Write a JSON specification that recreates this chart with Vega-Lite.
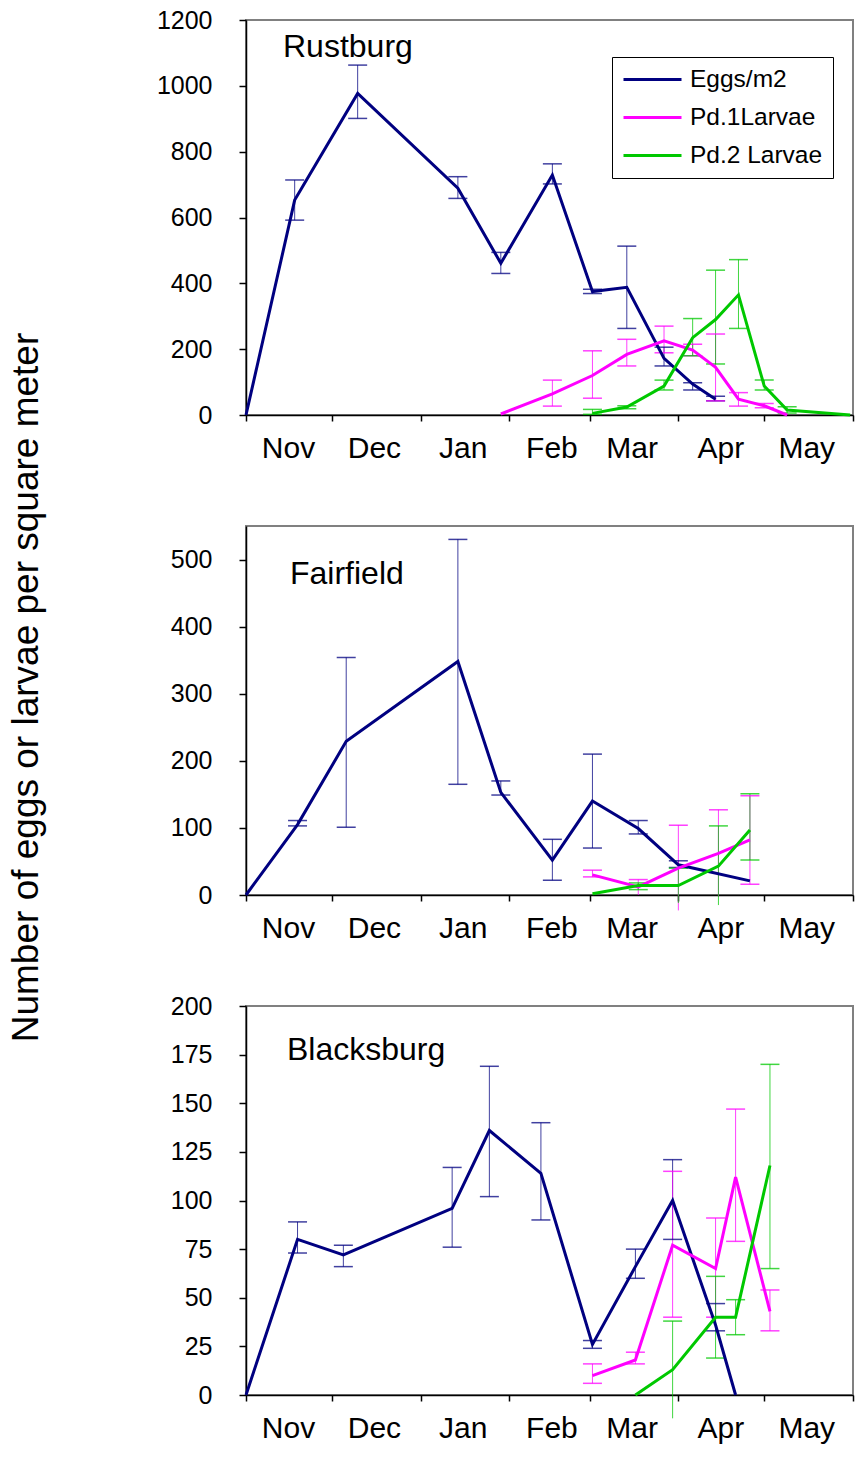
{
  "$schema": "https://vega.github.io/schema/vega-lite/v6.json",
  "background": "white",
  "padding": {"left": 5, "top": 7, "right": 2, "bottom": 2},
  "config": {
    "font": "Liberation Sans",
    "view": {"stroke": "#808080", "strokeWidth": 2},
    "axis": {"grid": false, "domainColor": "black", "tickColor": "black", "labelColor": "black", "titleColor": "black", "domainWidth": 1.5, "tickWidth": 1.5, "labelFont": "Liberation Sans", "titleFont": "Liberation Sans", "titleFontWeight": "normal"},
    "axisY": {"tickSize": 7, "labelPadding": 27, "labelFontSize": 25, "format": "d"},
    "axisX": {"tickSize": 6, "labelPadding": 12, "labelFontSize": 30}
  },
  "data": {"values": [
    {"site": "Rustburg", "series": "Eggs/m2", "date": "2002-11-01", "value": 0},
    {"site": "Rustburg", "series": "Eggs/m2", "date": "2002-11-18", "value": 653, "lo": 592, "hi": 714},
    {"site": "Rustburg", "series": "Eggs/m2", "date": "2002-12-10", "value": 977, "lo": 901, "hi": 1063},
    {"site": "Rustburg", "series": "Eggs/m2", "date": "2003-01-14", "value": 689, "lo": 658, "hi": 724},
    {"site": "Rustburg", "series": "Eggs/m2", "date": "2003-01-29", "value": 461, "lo": 430, "hi": 494},
    {"site": "Rustburg", "series": "Eggs/m2", "date": "2003-02-16", "value": 729, "lo": 702, "hi": 763},
    {"site": "Rustburg", "series": "Eggs/m2", "date": "2003-03-02", "value": 375, "lo": 369, "hi": 382},
    {"site": "Rustburg", "series": "Eggs/m2", "date": "2003-03-14", "value": 388, "lo": 263, "hi": 513},
    {"site": "Rustburg", "series": "Eggs/m2", "date": "2003-03-27", "value": 172, "lo": 149, "hi": 206},
    {"site": "Rustburg", "series": "Eggs/m2", "date": "2003-04-06", "value": 94, "lo": 76, "hi": 98},
    {"site": "Rustburg", "series": "Eggs/m2", "date": "2003-04-14", "value": 48, "lo": 43, "hi": 57},
    {"site": "Rustburg", "series": "Pd.1Larvae", "date": "2003-01-29", "value": 3},
    {"site": "Rustburg", "series": "Pd.1Larvae", "date": "2003-02-16", "value": 64, "lo": 27, "hi": 106},
    {"site": "Rustburg", "series": "Pd.1Larvae", "date": "2003-03-02", "value": 120, "lo": 51, "hi": 195},
    {"site": "Rustburg", "series": "Pd.1Larvae", "date": "2003-03-14", "value": 184, "lo": 149, "hi": 230},
    {"site": "Rustburg", "series": "Pd.1Larvae", "date": "2003-03-27", "value": 225, "lo": 189, "hi": 270},
    {"site": "Rustburg", "series": "Pd.1Larvae", "date": "2003-04-06", "value": 197, "lo": 180, "hi": 215},
    {"site": "Rustburg", "series": "Pd.1Larvae", "date": "2003-04-14", "value": 145, "lo": 43, "hi": 246},
    {"site": "Rustburg", "series": "Pd.1Larvae", "date": "2003-04-22", "value": 48, "lo": 27, "hi": 68},
    {"site": "Rustburg", "series": "Pd.1Larvae", "date": "2003-05-01", "value": 28, "lo": 22, "hi": 35},
    {"site": "Rustburg", "series": "Pd.1Larvae", "date": "2003-05-09", "value": 0},
    {"site": "Rustburg", "series": "Pd.2 Larvae", "date": "2003-03-02", "value": 5, "lo": 2, "hi": 17},
    {"site": "Rustburg", "series": "Pd.2 Larvae", "date": "2003-03-14", "value": 24, "lo": 19, "hi": 28},
    {"site": "Rustburg", "series": "Pd.2 Larvae", "date": "2003-03-27", "value": 88, "lo": 76, "hi": 106},
    {"site": "Rustburg", "series": "Pd.2 Larvae", "date": "2003-04-06", "value": 235, "lo": 180, "hi": 293},
    {"site": "Rustburg", "series": "Pd.2 Larvae", "date": "2003-04-14", "value": 290, "lo": 155, "hi": 440},
    {"site": "Rustburg", "series": "Pd.2 Larvae", "date": "2003-04-22", "value": 365, "lo": 263, "hi": 472},
    {"site": "Rustburg", "series": "Pd.2 Larvae", "date": "2003-05-01", "value": 88, "lo": 76, "hi": 106},
    {"site": "Rustburg", "series": "Pd.2 Larvae", "date": "2003-05-09", "value": 15, "lo": 6, "hi": 25},
    {"site": "Rustburg", "series": "Pd.2 Larvae", "date": "2003-05-31", "value": 0},

    {"site": "Fairfield", "series": "Eggs/m2", "date": "2002-11-01", "value": 0},
    {"site": "Fairfield", "series": "Eggs/m2", "date": "2002-11-19", "value": 105, "lo": 103, "hi": 111},
    {"site": "Fairfield", "series": "Eggs/m2", "date": "2002-12-06", "value": 229, "lo": 101, "hi": 354},
    {"site": "Fairfield", "series": "Eggs/m2", "date": "2003-01-14", "value": 348, "lo": 165, "hi": 530},
    {"site": "Fairfield", "series": "Eggs/m2", "date": "2003-01-29", "value": 153, "lo": 149, "hi": 170},
    {"site": "Fairfield", "series": "Eggs/m2", "date": "2003-02-16", "value": 52, "lo": 22, "hi": 83},
    {"site": "Fairfield", "series": "Eggs/m2", "date": "2003-03-02", "value": 140, "lo": 70, "hi": 210},
    {"site": "Fairfield", "series": "Eggs/m2", "date": "2003-03-18", "value": 99, "lo": 91, "hi": 111},
    {"site": "Fairfield", "series": "Eggs/m2", "date": "2003-04-01", "value": 45, "lo": 41, "hi": 51},
    {"site": "Fairfield", "series": "Eggs/m2", "date": "2003-04-26", "value": 21},
    {"site": "Fairfield", "series": "Pd.1Larvae", "date": "2003-03-02", "value": 30, "lo": 27, "hi": 37},
    {"site": "Fairfield", "series": "Pd.1Larvae", "date": "2003-03-18", "value": 12, "lo": 0, "hi": 23},
    {"site": "Fairfield", "series": "Pd.1Larvae", "date": "2003-04-01", "value": 40, "lo": -23, "hi": 104},
    {"site": "Fairfield", "series": "Pd.1Larvae", "date": "2003-04-15", "value": 62, "lo": -3, "hi": 127},
    {"site": "Fairfield", "series": "Pd.1Larvae", "date": "2003-04-26", "value": 82, "lo": 16, "hi": 148},
    {"site": "Fairfield", "series": "Pd.2 Larvae", "date": "2003-03-02", "value": 2},
    {"site": "Fairfield", "series": "Pd.2 Larvae", "date": "2003-03-18", "value": 14, "lo": 8, "hi": 18},
    {"site": "Fairfield", "series": "Pd.2 Larvae", "date": "2003-04-01", "value": 14, "lo": -12, "hi": 40},
    {"site": "Fairfield", "series": "Pd.2 Larvae", "date": "2003-04-15", "value": 43, "lo": -15, "hi": 103},
    {"site": "Fairfield", "series": "Pd.2 Larvae", "date": "2003-04-26", "value": 97, "lo": 52, "hi": 151},

    {"site": "Blacksburg", "series": "Eggs/m2", "date": "2002-11-01", "value": 0},
    {"site": "Blacksburg", "series": "Eggs/m2", "date": "2002-11-19", "value": 80, "lo": 73, "hi": 89},
    {"site": "Blacksburg", "series": "Eggs/m2", "date": "2002-12-05", "value": 72, "lo": 66, "hi": 77},
    {"site": "Blacksburg", "series": "Eggs/m2", "date": "2003-01-12", "value": 96, "lo": 76, "hi": 117},
    {"site": "Blacksburg", "series": "Eggs/m2", "date": "2003-01-25", "value": 136, "lo": 102, "hi": 169},
    {"site": "Blacksburg", "series": "Eggs/m2", "date": "2003-02-12", "value": 114, "lo": 90, "hi": 140},
    {"site": "Blacksburg", "series": "Eggs/m2", "date": "2003-03-02", "value": 26, "lo": 24, "hi": 28},
    {"site": "Blacksburg", "series": "Eggs/m2", "date": "2003-03-17", "value": 66, "lo": 60, "hi": 75},
    {"site": "Blacksburg", "series": "Eggs/m2", "date": "2003-03-30", "value": 100, "lo": 80, "hi": 121},
    {"site": "Blacksburg", "series": "Eggs/m2", "date": "2003-04-14", "value": 36, "lo": 33, "hi": 47},
    {"site": "Blacksburg", "series": "Eggs/m2", "date": "2003-04-21", "value": 0},
    {"site": "Blacksburg", "series": "Pd.1Larvae", "date": "2003-03-02", "value": 10, "lo": 6, "hi": 16},
    {"site": "Blacksburg", "series": "Pd.1Larvae", "date": "2003-03-17", "value": 18, "lo": 16, "hi": 22},
    {"site": "Blacksburg", "series": "Pd.1Larvae", "date": "2003-03-30", "value": 77, "lo": 40, "hi": 115},
    {"site": "Blacksburg", "series": "Pd.1Larvae", "date": "2003-04-14", "value": 65, "lo": 40, "hi": 91},
    {"site": "Blacksburg", "series": "Pd.1Larvae", "date": "2003-04-21", "value": 112, "lo": 79, "hi": 147},
    {"site": "Blacksburg", "series": "Pd.1Larvae", "date": "2003-05-03", "value": 43, "lo": 33, "hi": 54},
    {"site": "Blacksburg", "series": "Pd.2 Larvae", "date": "2003-03-17", "value": 0},
    {"site": "Blacksburg", "series": "Pd.2 Larvae", "date": "2003-03-30", "value": 13, "lo": -12, "hi": 38},
    {"site": "Blacksburg", "series": "Pd.2 Larvae", "date": "2003-04-14", "value": 40, "lo": 19, "hi": 61},
    {"site": "Blacksburg", "series": "Pd.2 Larvae", "date": "2003-04-21", "value": 40, "lo": 31, "hi": 49},
    {"site": "Blacksburg", "series": "Pd.2 Larvae", "date": "2003-05-03", "value": 118, "lo": 65, "hi": 170}
  ]},
  "bounds": "flush",
  "spacing": 111,
  "resolve": {"scale": {"color": "independent"}, "legend": {"color": "independent"}},
  "vconcat": [
    {
      "width": 607, "height": 395,
      "title": {"text": "Rustburg", "anchor": "start", "frame": "group", "baseline": "top", "offset": 0, "dx": 37, "dy": 56, "fontSize": 32, "fontWeight": "normal", "color": "black"},
      "transform": [{"filter": "datum.site == 'Rustburg'"}],
      "encoding": {
        "x": {"field": "date", "type": "temporal", "title": null,
          "scale": {"type": "utc", "domain": [{"year": 2002, "month": 11, "date": 1, "utc": true}, {"year": 2003, "month": 6, "date": 1, "utc": true}]},
          "axis": {"values": [{"year": 2002, "month": 11, "date": 1, "utc": true}, {"year": 2002, "month": 12, "date": 1, "utc": true}, {"year": 2003, "month": 1, "date": 1, "utc": true}, {"year": 2003, "month": 2, "date": 1, "utc": true}, {"year": 2003, "month": 3, "date": 1, "utc": true}, {"year": 2003, "month": 4, "date": 1, "utc": true}, {"year": 2003, "month": 5, "date": 1, "utc": true}, {"year": 2003, "month": 6, "date": 1, "utc": true}],
            "format": "%b", "labelExpr": "datum.label == 'Jun' ? '' : datum.label", "labelOffset": 42, "labelOverlap": false, "labelFlush": false, "labelBound": false}},
        "color": {"field": "series", "type": "nominal",
          "scale": {"domain": ["Eggs/m2", "Pd.1Larvae", "Pd.2 Larvae"], "range": ["#000080", "#FF00FF", "#00C800"]},
          "legend": {"orient": "none", "legendX": 366, "legendY": 37, "title": null, "strokeColor": "black", "fillColor": "white", "padding": 10, "rowPadding": 12, "clipHeight": 25, "symbolType": "stroke", "symbolSize": 3364, "symbolStrokeWidth": 3, "symbolOpacity": 1, "labelFontSize": 24.5, "labelOffset": 7, "labelFont": "Liberation Sans", "labelColor": "black"}}
      },
      "layer": [
        {"transform": [{"filter": "isValid(datum.lo)"}], "mark": {"type": "rule", "strokeWidth": 1, "opacity": 0.75},
          "encoding": {"y": {"field": "lo", "type": "quantitative", "scale": {"domain": [0, 1200]}, "axis": {"values": [0, 200, 400, 600, 800, 1000, 1200], "title": null}}, "y2": {"field": "hi"}}},
        {"transform": [{"filter": "isValid(datum.lo)"}], "mark": {"type": "tick", "orient": "horizontal", "size": 19, "thickness": 1.5, "opacity": 0.75},
          "encoding": {"y": {"field": "lo", "type": "quantitative", "scale": {"domain": [0, 1200]}, "axis": {"values": [0, 200, 400, 600, 800, 1000, 1200], "title": null}}}},
        {"transform": [{"filter": "isValid(datum.hi)"}], "mark": {"type": "tick", "orient": "horizontal", "size": 19, "thickness": 1.5, "opacity": 0.75},
          "encoding": {"y": {"field": "hi", "type": "quantitative", "scale": {"domain": [0, 1200]}, "axis": {"values": [0, 200, 400, 600, 800, 1000, 1200], "title": null}}}},
        {"mark": {"type": "line", "strokeWidth": 3},
          "encoding": {"y": {"field": "value", "type": "quantitative", "scale": {"domain": [0, 1200]}, "axis": {"values": [0, 200, 400, 600, 800, 1000, 1200], "title": null}}}}
      ]
    },
    {
      "width": 607, "height": 369,
      "title": {"text": "Fairfield", "anchor": "start", "frame": "group", "baseline": "top", "offset": 0, "dx": 44, "dy": 259, "fontSize": 32, "fontWeight": "normal", "color": "black"},
      "transform": [{"filter": "datum.site == 'Fairfield'"}],
      "encoding": {
        "x": {"field": "date", "type": "temporal", "title": null,
          "scale": {"type": "utc", "domain": [{"year": 2002, "month": 11, "date": 1, "utc": true}, {"year": 2003, "month": 6, "date": 1, "utc": true}]},
          "axis": {"values": [{"year": 2002, "month": 11, "date": 1, "utc": true}, {"year": 2002, "month": 12, "date": 1, "utc": true}, {"year": 2003, "month": 1, "date": 1, "utc": true}, {"year": 2003, "month": 2, "date": 1, "utc": true}, {"year": 2003, "month": 3, "date": 1, "utc": true}, {"year": 2003, "month": 4, "date": 1, "utc": true}, {"year": 2003, "month": 5, "date": 1, "utc": true}, {"year": 2003, "month": 6, "date": 1, "utc": true}],
            "format": "%b", "labelExpr": "datum.label == 'Jun' ? '' : datum.label", "labelOffset": 42, "labelOverlap": false, "labelFlush": false, "labelBound": false}},
        "color": {"field": "series", "type": "nominal",
          "scale": {"domain": ["Eggs/m2", "Pd.1Larvae", "Pd.2 Larvae"], "range": ["#000080", "#FF00FF", "#00C800"]},
          "legend": null}
      },
      "layer": [
        {"transform": [{"filter": "isValid(datum.lo)"}], "mark": {"type": "rule", "strokeWidth": 1, "opacity": 0.75},
          "encoding": {"y": {"field": "lo", "type": "quantitative", "scale": {"domain": [0, 550]},
            "axis": {"values": [0, 100, 200, 300, 400, 500], "title": "Number of eggs or larvae per square meter", "titleFontSize": 37, "titleAngle": 270, "titleBaseline": "bottom", "titleAlign": "center", "titleX": -201, "titleY": 161}}, "y2": {"field": "hi"}}},
        {"transform": [{"filter": "isValid(datum.lo) && datum.lo > 0"}], "mark": {"type": "tick", "orient": "horizontal", "size": 19, "thickness": 1.5, "opacity": 0.75},
          "encoding": {"y": {"field": "lo", "type": "quantitative", "scale": {"domain": [0, 550]},
            "axis": {"values": [0, 100, 200, 300, 400, 500], "title": "Number of eggs or larvae per square meter", "titleFontSize": 37, "titleAngle": 270, "titleBaseline": "bottom", "titleAlign": "center", "titleX": -201, "titleY": 161}}}},
        {"transform": [{"filter": "isValid(datum.hi)"}], "mark": {"type": "tick", "orient": "horizontal", "size": 19, "thickness": 1.5, "opacity": 0.75},
          "encoding": {"y": {"field": "hi", "type": "quantitative", "scale": {"domain": [0, 550]},
            "axis": {"values": [0, 100, 200, 300, 400, 500], "title": "Number of eggs or larvae per square meter", "titleFontSize": 37, "titleAngle": 270, "titleBaseline": "bottom", "titleAlign": "center", "titleX": -201, "titleY": 161}}}},
        {"mark": {"type": "line", "strokeWidth": 3},
          "encoding": {"y": {"field": "value", "type": "quantitative", "scale": {"domain": [0, 550]},
            "axis": {"values": [0, 100, 200, 300, 400, 500], "title": "Number of eggs or larvae per square meter", "titleFontSize": 37, "titleAngle": 270, "titleBaseline": "bottom", "titleAlign": "center", "titleX": -201, "titleY": 161}}}}
      ]
    },
    {
      "width": 607, "height": 389,
      "title": {"text": "Blacksburg", "anchor": "start", "frame": "group", "baseline": "top", "offset": 0, "dx": 41, "dy": 73, "fontSize": 32, "fontWeight": "normal", "color": "black"},
      "transform": [{"filter": "datum.site == 'Blacksburg'"}],
      "encoding": {
        "x": {"field": "date", "type": "temporal", "title": null,
          "scale": {"type": "utc", "domain": [{"year": 2002, "month": 11, "date": 1, "utc": true}, {"year": 2003, "month": 6, "date": 1, "utc": true}]},
          "axis": {"values": [{"year": 2002, "month": 11, "date": 1, "utc": true}, {"year": 2002, "month": 12, "date": 1, "utc": true}, {"year": 2003, "month": 1, "date": 1, "utc": true}, {"year": 2003, "month": 2, "date": 1, "utc": true}, {"year": 2003, "month": 3, "date": 1, "utc": true}, {"year": 2003, "month": 4, "date": 1, "utc": true}, {"year": 2003, "month": 5, "date": 1, "utc": true}, {"year": 2003, "month": 6, "date": 1, "utc": true}],
            "format": "%b", "labelExpr": "datum.label == 'Jun' ? '' : datum.label", "labelOffset": 42, "labelOverlap": false, "labelFlush": false, "labelBound": false}},
        "color": {"field": "series", "type": "nominal",
          "scale": {"domain": ["Eggs/m2", "Pd.1Larvae", "Pd.2 Larvae"], "range": ["#000080", "#FF00FF", "#00C800"]},
          "legend": null}
      },
      "layer": [
        {"transform": [{"filter": "isValid(datum.lo)"}], "mark": {"type": "rule", "strokeWidth": 1, "opacity": 0.75},
          "encoding": {"y": {"field": "lo", "type": "quantitative", "scale": {"domain": [0, 200]}, "axis": {"values": [0, 25, 50, 75, 100, 125, 150, 175, 200], "title": null}}, "y2": {"field": "hi"}}},
        {"transform": [{"filter": "isValid(datum.lo) && datum.lo > 0"}], "mark": {"type": "tick", "orient": "horizontal", "size": 19, "thickness": 1.5, "opacity": 0.75},
          "encoding": {"y": {"field": "lo", "type": "quantitative", "scale": {"domain": [0, 200]}, "axis": {"values": [0, 25, 50, 75, 100, 125, 150, 175, 200], "title": null}}}},
        {"transform": [{"filter": "isValid(datum.hi)"}], "mark": {"type": "tick", "orient": "horizontal", "size": 19, "thickness": 1.5, "opacity": 0.75},
          "encoding": {"y": {"field": "hi", "type": "quantitative", "scale": {"domain": [0, 200]}, "axis": {"values": [0, 25, 50, 75, 100, 125, 150, 175, 200], "title": null}}}},
        {"mark": {"type": "line", "strokeWidth": 3},
          "encoding": {"y": {"field": "value", "type": "quantitative", "scale": {"domain": [0, 200]}, "axis": {"values": [0, 25, 50, 75, 100, 125, 150, 175, 200], "title": null}}}}
      ]
    }
  ]
}
